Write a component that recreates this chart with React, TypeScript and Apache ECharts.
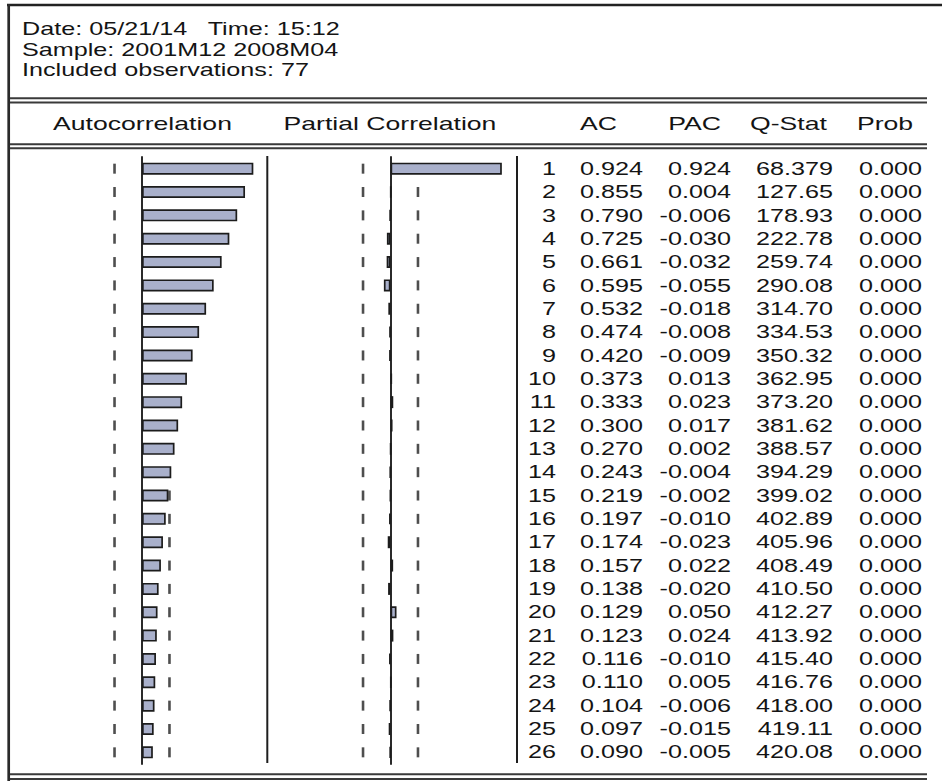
import React, { useEffect, useRef } from 'react';
import * as echarts from 'echarts';

// ---------- data ----------
const lags = ['1','2','3','4','5','6','7','8','9','10','11','12','13','14','15','16','17','18','19','20','21','22','23','24','25','26'];
const acValues = [0.924,0.855,0.790,0.725,0.661,0.595,0.532,0.474,0.420,0.373,0.333,0.300,0.270,0.243,0.219,0.197,0.174,0.157,0.138,0.129,0.123,0.116,0.110,0.104,0.097,0.090];
const pacValues = [0.924,0.004,-0.006,-0.030,-0.032,-0.055,-0.018,-0.008,-0.009,0.013,0.023,0.017,0.002,-0.004,-0.002,-0.010,-0.023,0.022,-0.020,0.050,0.024,-0.010,0.005,-0.006,-0.015,-0.005];
const qStats = [68.379,127.65,178.93,222.78,259.74,290.08,314.70,334.53,350.32,362.95,373.20,381.62,388.57,394.29,399.02,402.89,405.96,408.49,410.50,412.27,413.92,415.40,416.76,418.00,419.11,420.08];
const probs = [0,0,0,0,0,0,0,0,0,0,0,0,0,0,0,0,0,0,0,0,0,0,0,0,0,0];
const BOUND = 0.228; // approx. 2/sqrt(77)
const headerLines = ['Date: 05/21/14   Time: 15:12', 'Sample: 2001M12 2008M04', 'Included observations: 77'];
const panelTitles = ['Autocorrelation', 'Partial Correlation'];
const columnTitles = ['AC', 'PAC', 'Q-Stat', 'Prob'];

// ---------- layout ----------
const GRID_TOP = 157;
const GRID_H = 607;
const FONT = 'Liberation Sans';
const INK = '#141414';
const STRETCH = 1.4;
const COL_RIGHT = [556, 643, 731, 833, 922];
const COL_TITLE_X = [598.5, 694.5, 788.5, 885];
const PANEL_TITLE_X = [142.5, 390];
const INFO_Y = [29, 49.5, 70];

function textEl(text: string, x: number, y: number, size: number, align: string, sx: number) {
  return {
    type: 'text',
    x, y,
    scaleX: sx,
    silent: true,
    style: {
      text,
      fontSize: size,
      fontFamily: FONT,
      fill: INK,
      align,
      textAlign: align,
      verticalAlign: 'middle',
      textVerticalAlign: 'middle',
    },
  };
}

function hLine(x1: number, x2: number, y: number, w: number, color: string) {
  return { type: 'line', silent: true, shape: { x1, y1: y, x2, y2: y }, style: { stroke: color, lineWidth: w } };
}
function vLine(x: number, y1: number, y2: number, w: number, color: string) {
  return { type: 'line', silent: true, shape: { x1: x, y1, x2: x, y2 }, style: { stroke: color, lineWidth: w } };
}

function panelAxes(gridIndex: number) {
  return {
    x: {
      type: 'value', gridIndex, min: -1, max: 1, show: false,
      splitLine: { show: false },
    },
    y: {
      type: 'category', gridIndex, data: lags, inverse: true,
      axisLine: { show: true, onZero: true, lineStyle: { color: '#2a2a2a', width: 2 } },
      axisTick: { show: false }, axisLabel: { show: false }, splitLine: { show: false },
    },
  };
}

export default function App() {
  const ref = useRef<HTMLDivElement>(null);
  useEffect(() => {
    if (!ref.current) return;
    const chart = echarts.init(ref.current, null, { renderer: 'svg' });
    const a0 = panelAxes(0);
    const a1 = panelAxes(1);
    const barStyle = { color: '#A9B0CB', borderColor: '#1c1c1c', borderWidth: 1.7 };
    const dashSeries = (gi: number, sign: number) => ({
      type: 'scatter', xAxisIndex: gi, yAxisIndex: gi, z: 1,
      symbol: 'rect', symbolSize: [2.6, 10],
      itemStyle: { color: '#222' }, silent: true,
      data: lags.map((_, i) => [sign * BOUND, i]),
    });
    const graphics: any[] = [];
    // outer frame
    graphics.push(hLine(7, 942, 5, 2.5, '#222'));
    graphics.push(vLine(8.7, 4, 781, 2.7, '#2a2a2a'));
    // double rules
    [[98.3, 102.5], [144.3, 148.3], [774.3, 779]].forEach(([a, b]) => {
      graphics.push(hLine(10, 927, a, 2, '#3a3a3a'));
      graphics.push(hLine(10, 927, b, 2, '#3a3a3a'));
    });
    // separators
    graphics.push(vLine(267.3, 156, 763, 2, '#1e1e1e'));
    graphics.push(vLine(517, 156, 763, 2, '#1e1e1e'));
    // header texts
    headerLines.forEach((t, i) => graphics.push(textEl(t, 22, INFO_Y[i], 18, 'left', STRETCH)));
    panelTitles.forEach((t, i) => graphics.push(textEl(t, PANEL_TITLE_X[i], 123, 19, 'center', STRETCH)));
    columnTitles.forEach((t, i) => graphics.push(textEl(t, COL_TITLE_X[i], 123, 19, 'center', STRETCH)));

    const option: any = {
      animation: false,
      backgroundColor: '#ffffff',
      grid: [
        { left: 21.5, top: GRID_TOP, width: 241, height: GRID_H },
        { left: 270, top: GRID_TOP, width: 241, height: GRID_H },
        { left: 520, top: GRID_TOP, width: 410, height: GRID_H },
      ],
      xAxis: [a0.x, a1.x, { type: 'value', gridIndex: 2, min: 0, max: 1, show: false }],
      yAxis: [a0.y, a1.y, { type: 'category', gridIndex: 2, data: lags, inverse: true, show: false }],
      series: [
        dashSeries(0, -1), dashSeries(0, 1),
        dashSeries(1, -1), dashSeries(1, 1),
        { type: 'bar', name: 'AC', xAxisIndex: 0, yAxisIndex: 0, z: 2, barWidth: 12, itemStyle: barStyle, data: acValues, silent: true },
        { type: 'bar', name: 'PAC', xAxisIndex: 1, yAxisIndex: 1, z: 2, barWidth: 12, itemStyle: barStyle, data: pacValues, silent: true },
        {
          type: 'custom', name: 'table', xAxisIndex: 2, yAxisIndex: 2, silent: true,
          data: lags.map((_, i) => [0, i]),
          encode: { x: 0, y: 1 },
          renderItem: (params: any, api: any) => {
            const i = api.value(1);
            const y = api.coord([0, i])[1];
            const cells = [
              lags[i],
              acValues[i].toFixed(3),
              pacValues[i].toFixed(3),
              qStats[i].toPrecision(5),
              probs[i].toFixed(3),
            ];
            return {
              type: 'group',
              children: cells.map((t, k) => textEl(t, COL_RIGHT[k], y, 18, 'right', STRETCH)),
            };
          },
        },
      ],
      graphic: graphics,
    };
    chart.setOption(option);
    return () => chart.dispose();
  }, []);
  return (
    <div
      ref={ref}
      style={{ position: 'fixed', left: 0, top: 0, width: 942, height: 781, background: '#fff' }}
    />
  );
}
